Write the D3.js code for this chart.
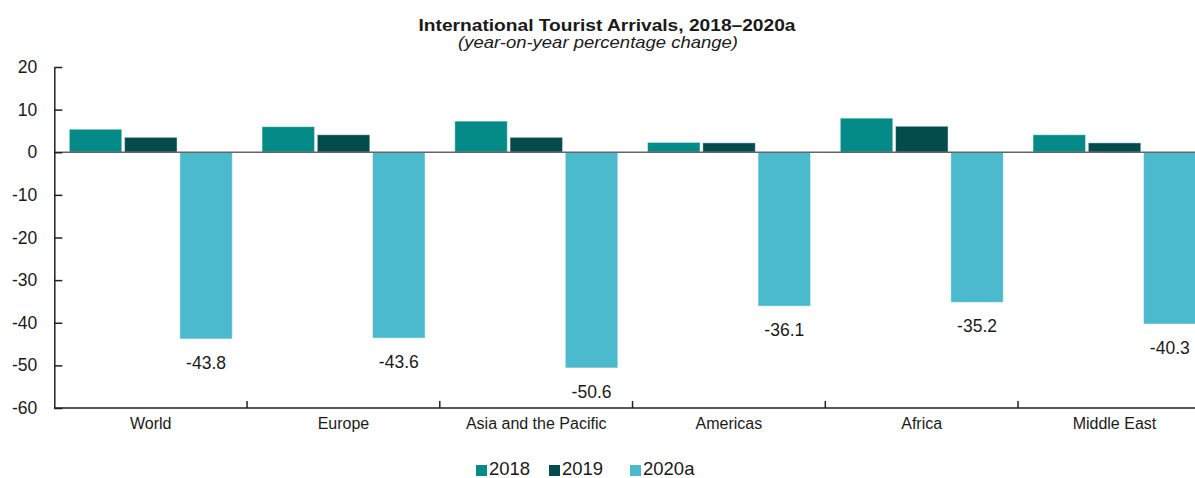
<!DOCTYPE html>
<html><head><meta charset="utf-8">
<script src="https://cdn.jsdelivr.net/npm/d3@7"></script>
<style>
body{margin:0;background:#fff}
text{font-family:"Liberation Sans",Arial,sans-serif;fill:#1a1a1a}
</style>
</head><body><svg id="chart" width="1195" height="478"></svg>
<script>
// Year-on-year change in international tourist arrivals by region (%)
const regions = ["World", "Europe", "Asia and the Pacific", "Americas", "Africa", "Middle East"];
const years = ["2018", "2019", "2020a"];
const growth2018 = [5.4, 6.0, 7.3, 2.3, 8.0, 4.1];
const growth2019 = [3.5, 4.1, 3.5, 2.2, 6.1, 2.2];
const growth2020 = [-43.8, -43.6, -50.6, -36.1, -35.2, -40.3];
const yTicks = [20, 10, 0, -10, -20, -30, -40, -50, -60];
const colors = ["#048b88", "#034c4b", "#4bbacd"];

const series = [growth2018, growth2019, growth2020];
const rows = regions.map((r, i) => ({region: r, values: years.map((y, k) => ({year: y, value: series[k][i]}))}));

// plain hyphen for negatives
const fmtInt = d => String(d).replace("\u2212", "-");
const fmt1 = d => d.toFixed(1);

const svg = d3.select("#chart");
const W = 1195;
const left = 54.3, groupW = 192.75;

const x0 = d3.scaleBand().domain(regions).range([left, left + groupW * regions.length]).padding(0);
const x1 = d3.scaleBand().domain(years).range([15, 178]).paddingInner(0.05).paddingOuter(0);
const y = d3.scaleLinear().domain([-60, 20]).range([408, 67]);
const color = d3.scaleOrdinal().domain(years).range(colors);

// Title
svg.append("text").attr("x", 607).attr("y", 31).attr("text-anchor", "middle")
  .attr("textLength", 377).attr("lengthAdjust", "spacingAndGlyphs")
  .style("font-size", "16.5px").style("font-weight", "bold").text("International Tourist Arrivals, 2018–2020a");
svg.append("text").attr("x", 598).attr("y", 48).attr("text-anchor", "middle")
  .attr("textLength", 280).attr("lengthAdjust", "spacingAndGlyphs")
  .style("font-size", "16.5px").style("font-style", "italic").text("(year-on-year percentage change)");

// Bars
const groups = svg.append("g").selectAll("g").data(rows).join("g")
  .attr("transform", d => `translate(${x0(d.region)},0)`);
groups.selectAll("rect").data(d => d.values).join("rect")
  .attr("x", d => x1(d.year))
  .attr("width", x1.bandwidth())
  .attr("y", d => y(Math.max(0, d.value)))
  .attr("height", d => Math.abs(y(d.value) - y(0)))
  .attr("fill", d => color(d.year))
  .attr("stroke", "rgba(255,255,255,0.45)")
  .attr("stroke-width", 1);

// Value labels for 2020
groups.append("text")
  .attr("x", x1("2020a") + x1.bandwidth() / 2)
  .attr("y", d => y(d.values[2].value) + 30)
  .attr("text-anchor", "middle")
  .style("font-size", "17.5px")
  .text(d => fmt1(d.values[2].value));

// Zero line
svg.append("line").attr("x1", left).attr("x2", W).attr("y1", y(0)).attr("y2", y(0))
  .attr("stroke", "#666").attr("stroke-width", 1.6);

// Y axis
const yAxis = svg.append("g").attr("transform", `translate(${left},0)`)
  .call(d3.axisLeft(y).tickValues(yTicks).tickSize(-8).tickSizeOuter(0).tickPadding(17).tickFormat(fmtInt));
yAxis.select(".domain").attr("stroke", "#222").attr("stroke-width", 1.5);
yAxis.selectAll(".tick line").attr("stroke", "#222").attr("stroke-width", 1.5);
yAxis.selectAll(".tick text").style("font-size", "17.5px").style("font-family", "'Liberation Sans',Arial,sans-serif").attr("fill", "#1a1a1a");

// X axis: baseline, category separators and labels
const xAxis = svg.append("g").attr("transform", `translate(0,${y(-60)})`)
  .call(d3.axisBottom(x0).tickSize(0).tickPadding(10));
xAxis.select(".domain").remove();
xAxis.selectAll(".tick text").style("font-size", "16px").style("font-family", "'Liberation Sans',Arial,sans-serif").attr("fill", "#1a1a1a");
svg.append("line").attr("x1", left).attr("x2", W).attr("y1", y(-60)).attr("y2", y(-60))
  .attr("stroke", "#222").attr("stroke-width", 1.5);
svg.append("g").selectAll("line").data(regions.slice(1)).join("line")
  .attr("x1", d => x0(d)).attr("x2", d => x0(d))
  .attr("y1", y(-60)).attr("y2", y(-60) - 7)
  .attr("stroke", "#222").attr("stroke-width", 1.5);

// Legend
const legendX = [0, 73, 154];
const legend = svg.append("g").attr("transform", "translate(476,475)");
const items = legend.selectAll("g").data(years).join("g")
  .attr("transform", (d, i) => `translate(${legendX[i]},0)`);
items.append("rect").attr("x", 0).attr("y", -10).attr("width", 11).attr("height", 11).attr("fill", d => color(d));
items.append("text").attr("x", 13).attr("y", 0).style("font-size", "18.5px").text(d => d);
</script>
</body></html>
